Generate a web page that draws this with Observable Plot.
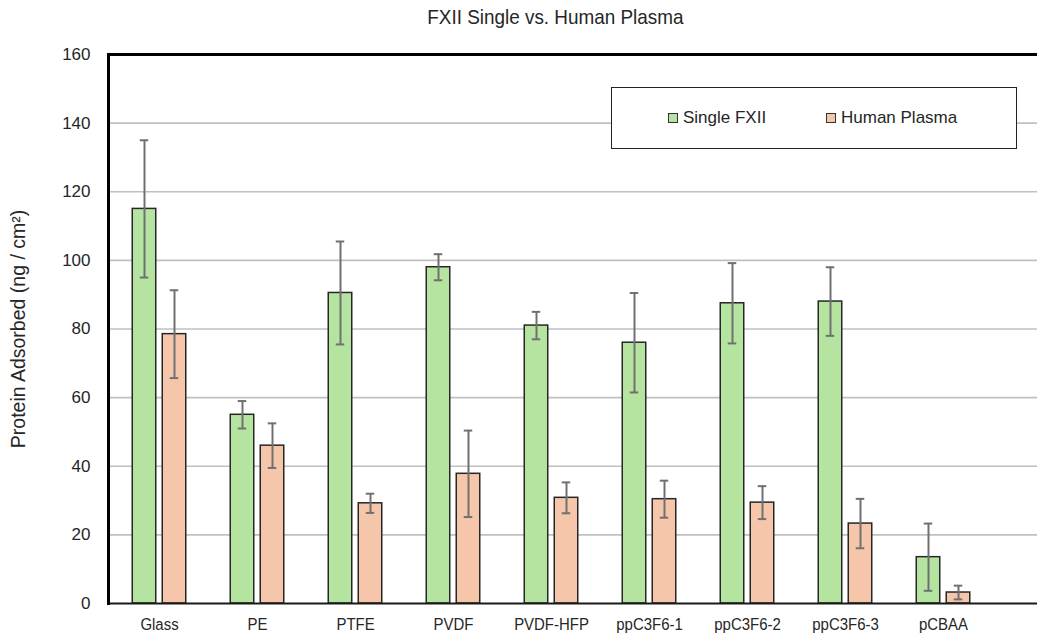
<!DOCTYPE html>
<html>
<head>
<meta charset="utf-8">
<script src="https://cdn.jsdelivr.net/npm/d3@7"></script>
<script src="https://cdn.jsdelivr.net/npm/@observablehq/plot@0.6"></script>
<style>
  body { margin: 0; background: #fff; font-family: "Liberation Sans", Arial, sans-serif; }
  #wrap { position: relative; width: 1037px; height: 638px; overflow: hidden; background: #fff; }
  #title { height: 36px; line-height: 33px; text-align: center; font-size: 21px; color: #262626; padding-left: 73px; box-sizing: border-box; }
  #title span { display: inline-block; transform: scaleX(0.9); }
  #legend { position: absolute; left: 611px; top: 87px; width: 404px; height: 60px; border: 1.5px solid #222; background: #fff; font-size: 17px; color: #262626; }
  .item { position: absolute; top: 0; height: 60px; display: flex; align-items: center; }
  .sw { display: inline-block; width: 8px; height: 8px; border: 1px solid #333; margin-right: 5px; }
  svg { display: block; overflow: visible; }
</style>
</head>
<body>
<div id="wrap">
  <div id="title"><span>FXII Single vs. Human Plasma</span></div>
  <div id="chart"></div>
  <div id="legend"></div>
</div>
<script>
// Surfaces and measured protein adsorption (mean and error)
const categories = ["Glass", "PE", "PTFE", "PVDF", "PVDF-HFP", "ppC3F6-1", "ppC3F6-2", "ppC3F6-3", "pCBAA"];
const singleFXII    = [115, 55, 90.5, 98, 81, 76, 87.5, 88, 13.5];
const singleFXIIErr = [20, 4, 15, 3.8, 4, 14.5, 11.7, 10, 9.8];
const humanPlasma    = [78.5, 46, 29.2, 37.8, 30.8, 30.4, 29.4, 23.3, 3.2];
const humanPlasmaErr = [12.8, 6.5, 2.8, 12.6, 4.5, 5.4, 4.8, 7.2, 2];
const yTicks = [0, 20, 40, 60, 80, 100, 120, 140, 160];
const seriesNames = ["Single FXII", "Human Plasma"];
const seriesColors = ["#b5e4a1", "#f6c6aa"];

const rows = categories.map((c, i) => ({
  category: c,
  single: singleFXII[i], singleErr: singleFXIIErr[i],
  plasma: humanPlasma[i], plasmaErr: humanPlasmaErr[i]
}));

// Category bands start at the left axis; the gridlines run on to the page edge
const left = 108, step = 98.5;
const half = step / 2;
const barW = 24, gap = 6, cap = 9;
const off = gap / 2 + barW / 2; // bar centre offset from band centre

const errStyle = {stroke: "#707070", strokeWidth: 2};

const chart = Plot.plot({
  width: 1037,
  height: 602,
  marginLeft: left,
  marginRight: 0,
  marginTop: 18,
  marginBottom: 35,
  x: {domain: categories, range: [left, left + step * categories.length], padding: 0},
  y: {domain: [0, 160]},
  style: {fontFamily: "'Liberation Sans', Arial, sans-serif", fontSize: "17px", color: "#262626", background: "#fff"},
  marks: [
    Plot.ruleY(yTicks.slice(1, -1), {stroke: "#c0c0c0", strokeWidth: 1.6}),
    Plot.barY(rows, {x: "category", y: "single", fill: seriesColors[0], stroke: "#262626", strokeWidth: 1.5,
      insetLeft: half - off - barW / 2, insetRight: half + off - barW / 2}),
    Plot.barY(rows, {x: "category", y: "plasma", fill: seriesColors[1], stroke: "#262626", strokeWidth: 1.5,
      insetLeft: half + off - barW / 2, insetRight: half - off - barW / 2}),
    Plot.ruleX(rows, {x: "category", y1: d => d.single - d.singleErr, y2: d => d.single + d.singleErr, dx: -off, ...errStyle}),
    Plot.ruleX(rows, {x: "category", y1: d => d.plasma - d.plasmaErr, y2: d => d.plasma + d.plasmaErr, dx: off, ...errStyle}),
    Plot.tickY(rows, {x: "category", y: d => d.single + d.singleErr, insetLeft: half - off - cap / 2, insetRight: half + off - cap / 2, ...errStyle}),
    Plot.tickY(rows, {x: "category", y: d => d.single - d.singleErr, insetLeft: half - off - cap / 2, insetRight: half + off - cap / 2, ...errStyle}),
    Plot.tickY(rows, {x: "category", y: d => d.plasma + d.plasmaErr, insetLeft: half + off - cap / 2, insetRight: half - off - cap / 2, ...errStyle}),
    Plot.tickY(rows, {x: "category", y: d => d.plasma - d.plasmaErr, insetLeft: half + off - cap / 2, insetRight: half - off - cap / 2, ...errStyle}),
    Plot.ruleY([0], {stroke: "#1a1a1a", strokeWidth: 2}),
    Plot.ruleY([160], {stroke: "#000", strokeWidth: 3}),
    Plot.frame({anchor: "left", stroke: "#000", strokeWidth: 3}),
    Plot.axisY({ticks: yTicks, tickSize: 0, tickPadding: 18, label: null, fontSize: 17}),
    Plot.axisX({tickSize: 0, tickPadding: 14, label: null, fontSize: 17}),
    Plot.text(["Protein Adsorbed (ng / cm²)"], {text: d => d, frameAnchor: "left", textAnchor: "middle", dx: -90, rotate: -90, fontSize: 19.5, fill: "#262626"})
  ]
});
document.getElementById("chart").appendChild(chart);

// Condense the category labels horizontally around their own anchor
chart.querySelectorAll('g[aria-label="x-axis tick label"] text').forEach(t => {
  const tr = t.getAttribute("transform");
  if (tr && tr.includes("translate")) t.setAttribute("transform", tr + " scale(0.88,1)");
});

// Legend inside the plot area
const legend = document.getElementById("legend");
const legendX = [56, 214];
seriesNames.forEach((name, i) => {
  const item = document.createElement("div");
  item.className = "item";
  item.style.left = legendX[i] + "px";
  const sw = document.createElement("span");
  sw.className = "sw";
  sw.style.background = seriesColors[i];
  item.appendChild(sw);
  item.appendChild(document.createTextNode(name));
  legend.appendChild(item);
});
</script>
</body>
</html>
